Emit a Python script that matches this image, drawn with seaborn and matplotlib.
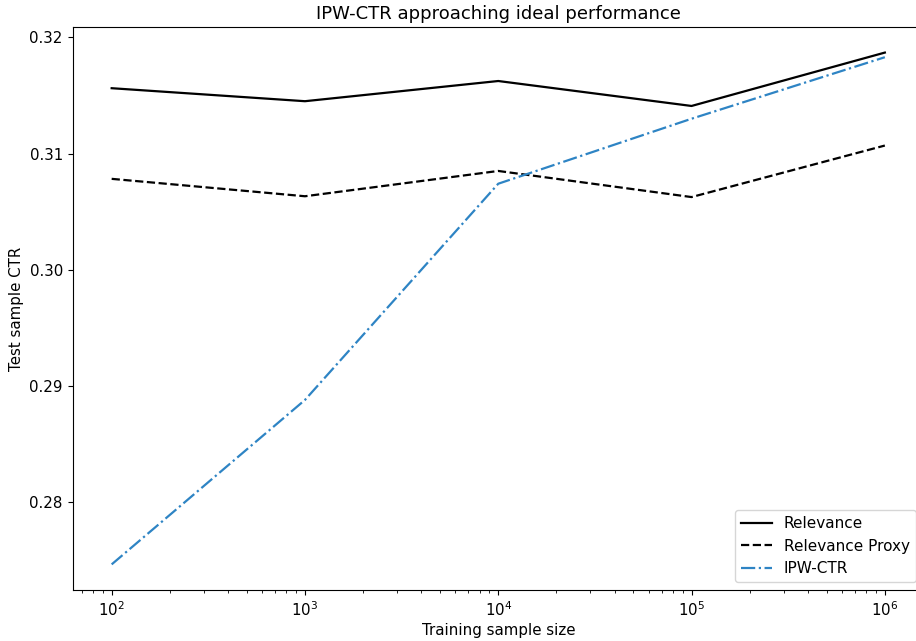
import pandas as pd
import matplotlib
matplotlib.use("Agg")
import matplotlib.pyplot as plt
import seaborn as sns

# Data
sample_sizes = [1e2, 1e3, 1e4, 1e5, 1e6]
relevance = [0.31563, 0.31451, 0.31625, 0.31410, 0.31870]
relevance_proxy = [0.30782, 0.30632, 0.30850, 0.30625, 0.31069]
ipw_ctr = [0.27460, 0.28877, 0.30740, 0.31300, 0.31830]

plt.rcParams['font.size'] = 10.8
plt.rcParams['font.family'] = ['DejaVu Sans']
plt.rcParams['xtick.major.size'] = 3.8
plt.rcParams['ytick.major.size'] = 3.8

df = pd.DataFrame({
    'size': sample_sizes * 3,
    'ctr': relevance + relevance_proxy + ipw_ctr,
    'model': ['Relevance'] * 5 + ['Relevance Proxy'] * 5 + ['IPW-CTR'] * 5,
})

fig = plt.figure(figsize=(9.16, 6.41), dpi=100)
ax = fig.add_axes([0.0797, 0.0796, 0.9285, 0.8783])

palette = {'Relevance': 'black', 'Relevance Proxy': 'black', 'IPW-CTR': '#2e84c4'}
dashes = {'Relevance': '', 'Relevance Proxy': (3.7, 1.6), 'IPW-CTR': (6.4, 1.6, 1, 1.6)}
sns.lineplot(data=df, x='size', y='ctr', hue='model', style='model',
             palette=palette, dashes=dashes, linewidth=1.6, ax=ax)

ax.set_xscale('log')
ax.set_title("IPW-CTR approaching ideal performance", fontsize=13)
ax.set_xlabel("Training sample size", labelpad=3)
ax.set_ylabel("Test sample CTR")
ax.set_yticks([0.28, 0.29, 0.30, 0.31, 0.32])
ax.tick_params(labelsize=10.8)
ax.legend(loc='lower right', title=None, fontsize=11)

fig.savefig("out.png", dpi=100)
